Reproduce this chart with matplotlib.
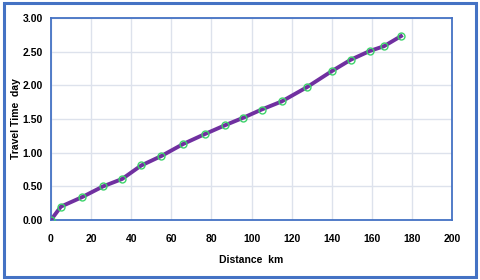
import matplotlib
matplotlib.use("Agg")
import matplotlib.pyplot as plt
from matplotlib.patches import Rectangle

distance_km = [0, 5, 15.5, 26, 35.5, 45, 55, 66, 77, 87, 96, 105, 115, 127.5, 140, 149.5, 159, 166, 174.5]
travel_day = [0.0, 0.20, 0.34, 0.50, 0.61, 0.81, 0.95, 1.13, 1.28, 1.41, 1.52, 1.64, 1.76, 1.97, 2.21, 2.38, 2.51, 2.58, 2.73]

x_ticks = [0, 20, 40, 60, 80, 100, 120, 140, 160, 180, 200]
y_ticks = [0.0, 0.5, 1.0, 1.5, 2.0, 2.5, 3.0]

plt.rcParams['font.family'] = ['Liberation Sans', 'DejaVu Sans']

fig = plt.figure(figsize=(4.8, 2.8), dpi=100)
fig.patches.append(Rectangle((0.008, 0.012), 0.984, 0.976, transform=fig.transFigure,
                             fill=False, edgecolor="#4472C4", linewidth=2.2))

ax = fig.add_axes([0.106, 0.214, 0.836, 0.722])
ax.plot(distance_km, travel_day, color="#7030A0", linewidth=2.8, zorder=3)
ax.plot(distance_km, travel_day, linestyle="none", marker="o", markersize=5,
        markerfacecolor="none", markeredgecolor="#3DD36B", markeredgewidth=1.0, zorder=4)

ax.set_xlim(0, 200)
ax.set_ylim(0, 3.0)
ax.set_xticks(x_ticks)
ax.set_yticks(y_ticks)
ax.set_yticklabels([f"{v:.2f}" for v in y_ticks])
ax.grid(True, color="#DDE2EC", linewidth=1.0)
ax.set_axisbelow(True)
for s in ax.spines.values():
    s.set_color("#4472C4")
    s.set_linewidth(1.3)
ax.tick_params(axis="y", length=0, labelsize=7.5, pad=6)
ax.tick_params(axis="x", length=0, labelsize=7.5, pad=10)
for lab in ax.get_xticklabels() + ax.get_yticklabels():
    lab.set_fontweight("bold")
ax.set_xlabel("Distance  km", fontsize=7.5, fontweight="bold")
ax.set_ylabel("Travel Time  day", fontsize=7.5, fontweight="bold")
ax.xaxis.set_label_coords(0.5, -0.175)
ax.yaxis.set_label_coords(-0.075, 0.5)

fig.savefig("out.png", dpi=100)
